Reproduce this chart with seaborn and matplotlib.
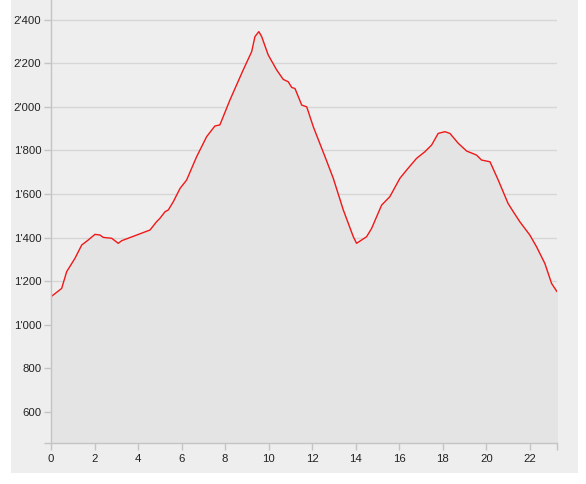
import numpy as np
import pandas as pd
import matplotlib.pyplot as plt
import matplotlib.ticker as mticker
from matplotlib.patches import Rectangle
import seaborn as sns

# -----------------------------
# Elevation profile (distance in km, altitude in m)
# -----------------------------
distance = [0.00, 0.49, 0.72, 1.10, 1.41, 1.71, 2.02, 2.25, 2.40, 2.79,
            3.09, 3.25, 3.94, 4.55, 4.85, 5.00, 5.24, 5.39, 5.62, 5.93,
            6.23, 6.69, 7.15, 7.53, 7.76, 8.22, 8.83, 9.22, 9.37, 9.55,
            9.68, 9.98, 10.37, 10.67, 10.90, 11.06, 11.21, 11.52, 11.75, 12.05,
            12.59, 12.97, 13.43, 13.89, 14.04, 14.50, 14.73, 15.19, 15.57, 16.03,
            16.34, 16.80, 17.18, 17.49, 17.79, 18.10, 18.33, 18.71, 19.10, 19.55,
            19.78, 20.17, 20.55, 21.00, 21.24, 21.54, 22.00, 22.31, 22.69, 23.00,
            23.25]
altitude = [1129, 1167, 1244, 1305, 1366, 1389, 1415, 1412, 1401, 1397,
            1374, 1386, 1412, 1435, 1473, 1488, 1519, 1527, 1565, 1626,
            1664, 1771, 1863, 1912, 1917, 2031, 2169, 2253, 2322, 2345,
            2322, 2238, 2169, 2126, 2115, 2089, 2084, 2008, 2000, 1909,
            1771, 1672, 1527, 1404, 1374, 1404, 1442, 1549, 1588, 1672,
            1710, 1764, 1794, 1825, 1878, 1886, 1878, 1833, 1797, 1779,
            1756, 1748, 1664, 1557, 1519, 1473, 1412, 1358, 1282, 1190,
            1152]

x_ticks = [0, 2, 4, 6, 8, 10, 12, 14, 16, 18, 20, 22]
y_ticks = [600, 800, 1000, 1200, 1400, 1600, 1800, 2000, 2200, 2400]

df = pd.DataFrame({"distance": distance, "altitude": altitude})

sns.set_theme(style="white")
plt.rcParams["font.family"] = ["Liberation Sans", "DejaVu Sans"]

fig = plt.figure(figsize=(5.86, 4.84), dpi=100)
fig.patch.set_facecolor("white")
fig.patches.append(Rectangle((11 / 586, 1 - 473 / 484), 567 / 586, 473 / 484,
                             transform=fig.transFigure, facecolor="#eeeeee",
                             edgecolor="none", zorder=-10))

ax = fig.add_axes([51 / 586, 1 - 443 / 484, 506 / 586, 443 / 484])
ax.set_zorder(5)
ax.set_facecolor("#eeeeee")

ymin, ymax = 458, 2490
xmax = 23.25
ax.fill_between(df["distance"], df["altitude"], ymin, color="#e4e4e4", zorder=1)
sns.lineplot(data=df, x="distance", y="altitude", ax=ax, color="#f01818",
             linewidth=1.0, zorder=3)

ax.set_xlim(0, xmax)
ax.set_ylim(ymin, ymax)
ax.set_xticks(x_ticks)
ax.set_yticks(y_ticks)
ax.set_xticks([xmax], minor=True)
ax.set_yticks([ymin], minor=True)
ax.yaxis.set_major_formatter(
    mticker.FuncFormatter(lambda v, p: f"{v:,.0f}".replace(",", "'")))

ax.grid(axis="y", which="major", color="#d6d6d6", linewidth=1)
for ln in ax.get_ygridlines():
    ln.set_zorder(2)

for side in ["top", "right"]:
    ax.spines[side].set_visible(False)
for side in ["left", "bottom"]:
    ax.spines[side].set_color("#c4c4c4")
    ax.spines[side].set_linewidth(1)
    ax.spines[side].set_zorder(4)

ax.tick_params(axis="both", which="both", direction="out", length=5, width=1,
               color="#c4c4c4", labelsize=8.2, labelcolor="#222222",
               bottom=True, left=True)
ax.tick_params(axis="y", pad=2)
ax.tick_params(axis="x", pad=3)
ax.set_xlabel("")
ax.set_ylabel("")

fig.savefig("out.png", dpi=100)
